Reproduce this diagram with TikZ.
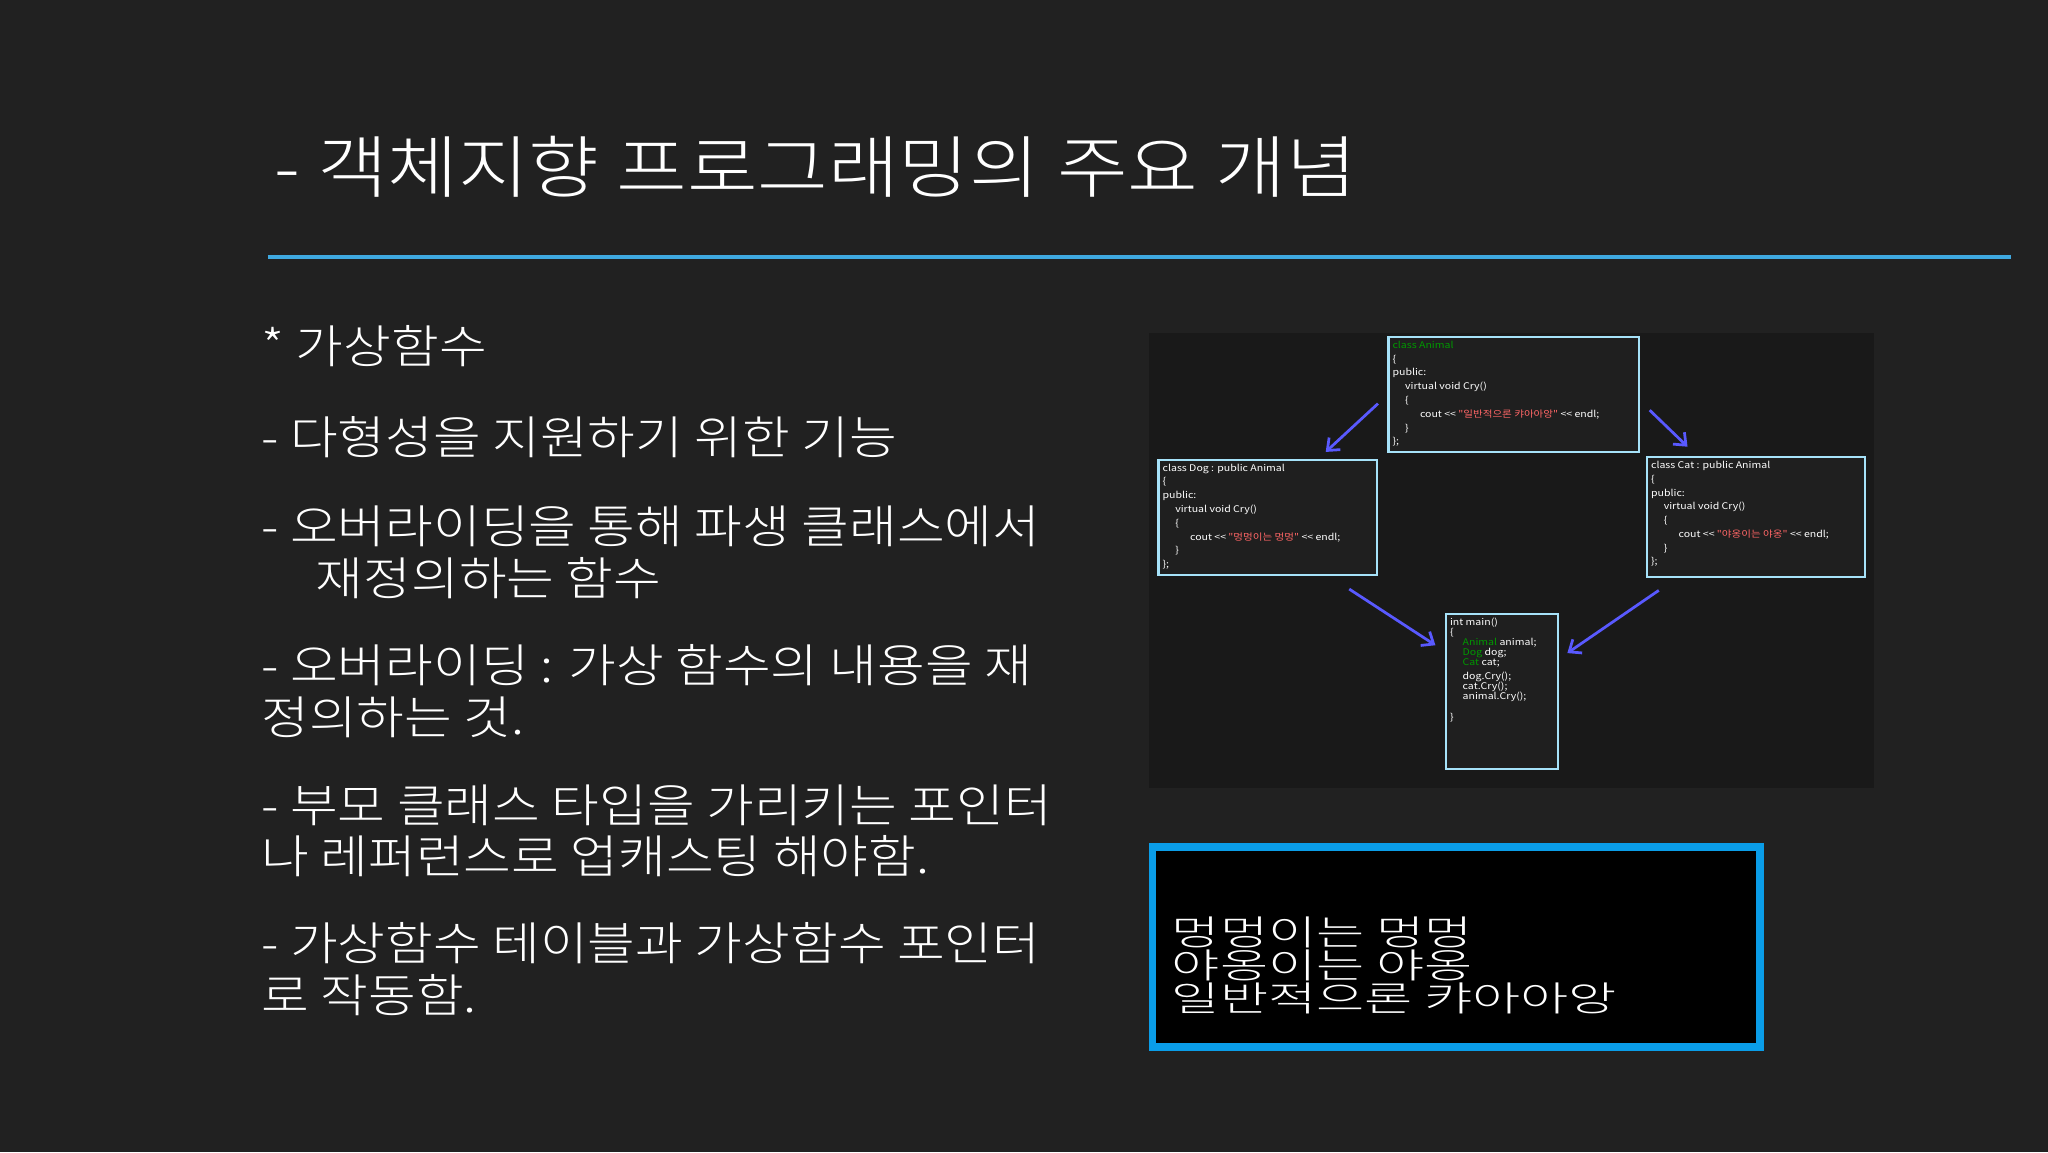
\documentclass[tikz,border=0pt]{standalone}
\usepackage{fontspec}
\setmainfont{Noto Sans CJK KR}
\newfontfamily\kr{Noto Sans CJK KR}
\newfontfamily\krl{Noto Sans CJK KR Light}
\usetikzlibrary{arrows.meta}
\definecolor{skyline}{HTML}{3FA9E0}
\definecolor{consoleblue}{HTML}{0A9DE8}
\begin{document}
\begin{tikzpicture}[x=0.05cm,y=-0.05cm,
  txt/.style={anchor=west,text=white,font=\krl\fontsize{50}{56}\selectfont,inner sep=0,align=left,xscale=1.13},
  codebox/.style={draw=cyan!35!white,line width=2.4pt,fill=black!88,inner sep=0},
  code/.style={anchor=north west,inner sep=0,align=left,font=\kr\fontsize{10}{15}\selectfont,text=white!75,xscale=1.15},
  arr/.style={draw=blue!65!white,line width=3pt,-{Straight Barb[length=11pt,width=18pt]}},
]
\fill[black!87] (0,0) rectangle (1568,882);
\useasboundingbox (0,0) rectangle (1568,882);
\node[txt,font=\krl\fontsize{74}{80}\selectfont,xscale=1.0] (title) at (210,128) {- 객체지향 프로그래밍의 주요 개념};
\draw[line width=4.5pt,color=skyline] (205,197) -- (1540,197);
\node[txt] (b1) at (200,265) {* 가상함수};
\node[txt] (b2) at (200,335) {- 다형성을 지원하기 위한 기능};
\node[txt] (b3) at (200,423) {- 오버라이딩을 통해 파생 클래스에서\\\hspace{1.05em}재정의하는 함수};
\node[txt] (b4) at (200,529) {- 오버라이딩 : 가상 함수의 내용을 재\\정의하는 것.};
\node[txt] (b5) at (200,636) {- 부모 클래스 타입을 가리키는 포인터\\나 레퍼런스로 업캐스팅 해야함.};
\node[txt] (b6) at (200,742) {- 가상함수 테이블과 가상함수 포인터\\로 작동함.};
% code screenshot
\fill[black!90] (880,255) rectangle (1435,603);
\draw[codebox] (1063,258) rectangle (1255,346);
\node[code] (animal) at (1066,261) {\textcolor{green!60!black}{class Animal}\\\{\\public:\\\hspace{1.2em}virtual void Cry()\\\hspace{1.2em}\{\\\hspace{2.6em}cout << \textcolor{red!60!white}{"일반적으론 캬아아앙"} << endl;\\\hspace{1.2em}\}\\\};};
\draw[codebox] (887,352) rectangle (1054,440);
\node[code] (dog) at (890,355) {class Dog : public Animal\\\{\\public:\\\hspace{1.2em}virtual void Cry()\\\hspace{1.2em}\{\\\hspace{2.6em}cout << \textcolor{red!60!white}{"멍멍이는 멍멍"} << endl;\\\hspace{1.2em}\}\\\};};
\draw[codebox] (1261,350) rectangle (1428,442);
\node[code] (cat) at (1264,353) {class Cat : public Animal\\\{\\public:\\\hspace{1.2em}virtual void Cry()\\\hspace{1.2em}\{\\\hspace{2.6em}cout << \textcolor{red!60!white}{"야옹이는 야옹"} << endl;\\\hspace{1.2em}\}\\\};};
\draw[codebox] (1107,470) rectangle (1193,589);
\node[code,font=\kr\fontsize{10}{11}\selectfont] (main) at (1110,473) {int main()\\\{\\\hspace{1.2em}\textcolor{green!60!black}{Animal} animal;\\\hspace{1.2em}\textcolor{green!60!black}{Dog} dog;\\\hspace{1.2em}\textcolor{green!60!black}{Cat} cat;\\[4pt]\hspace{1.2em}dog.Cry();\\\hspace{1.2em}cat.Cry();\\\hspace{1.2em}animal.Cry();\\[12pt]\}};
\coordinate (a1s) at (1055,309); \coordinate (a1e) at (1015,346);
\coordinate (a2s) at (1263,314); \coordinate (a2e) at (1292,342);
\coordinate (a3s) at (1033,451); \coordinate (a3e) at (1099,494);
\coordinate (a4s) at (1270,452); \coordinate (a4e) at (1200,500);
\draw[arr] (a1s) -- (a1e);
\draw[arr] (a2s) -- (a2e);
\draw[arr] (a3s) -- (a3e);
\draw[arr] (a4s) -- (a4e);
% console
\draw[line width=8pt,draw=consoleblue,fill=black] (882.5,648.5) rectangle (1347.5,801.5);
\node[anchor=north west,inner sep=0,align=left,text=white!90,xscale=1.5,font=\krl\fontsize{38}{36}\selectfont] (console) at (897,702) {멍멍이는 멍멍\\야옹이는 야옹\\일반적으론 캬아아앙};
\end{tikzpicture}
\end{document}
